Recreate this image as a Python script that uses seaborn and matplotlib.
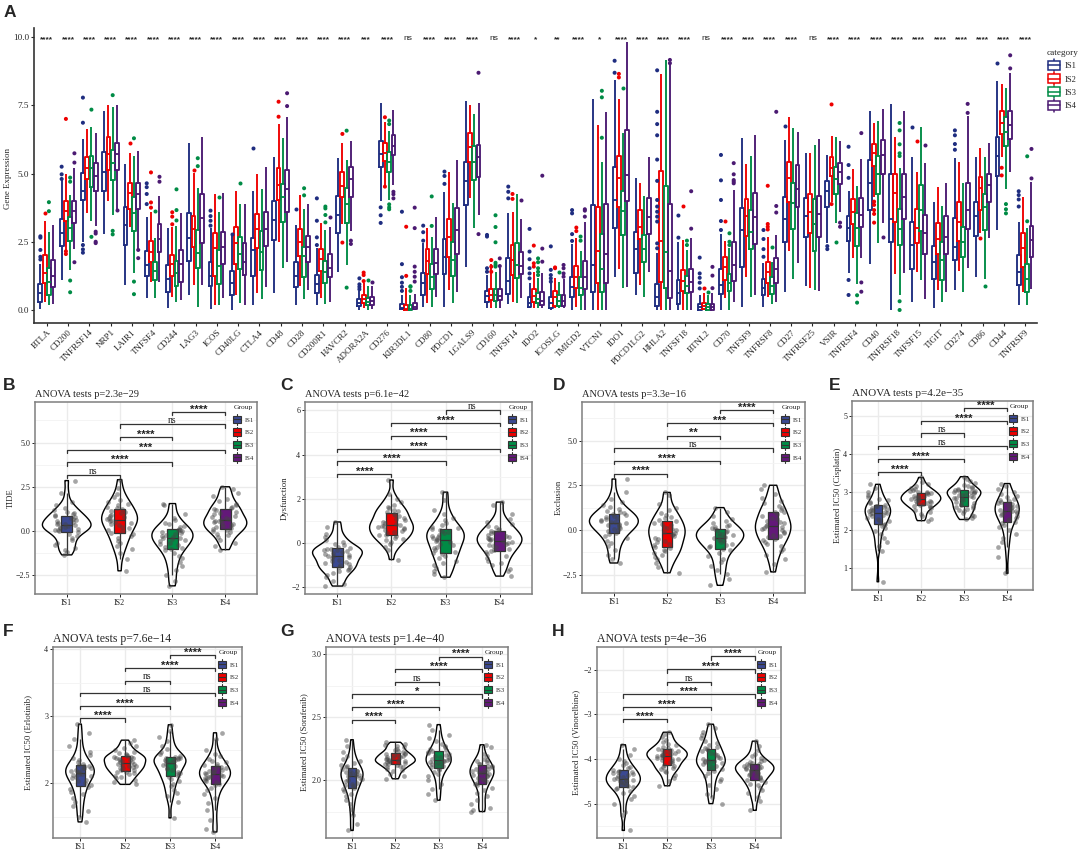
import numpy as np
import pandas as pd
import matplotlib
matplotlib.use('Agg')
import matplotlib.pyplot as plt
from matplotlib.lines import Line2D
from matplotlib.patches import Patch, Rectangle
from matplotlib.legend_handler import HandlerBase
from matplotlib.ticker import AutoMinorLocator
import seaborn as sns

genes = ['BTLA', 'CD200', 'TNFRSF14', 'NRP1', 'LAIR1', 'TNFSF4', 'CD244', 'LAG3', 'ICOS', 'CD40LG', 'CTLA4', 'CD48',
         'CD28', 'CD200R1', 'HAVCR2', 'ADORA2A', 'CD276', 'KIR3DL1', 'CD80', 'PDCD1', 'LGALS9', 'CD160', 'TNFSF14',
         'IDO2', 'ICOSLG', 'TMIGD2', 'VTCN1', 'IDO1', 'PDCD1LG2', 'HHLA2', 'TNFSF18', 'BTNL2', 'CD70', 'TNFSF9',
         'TNFRSF8', 'CD27', 'TNFRSF25', 'VSIR', 'TNFRSF4', 'CD40', 'TNFRSF18', 'TNFSF15', 'TIGIT', 'CD274', 'CD86',
         'CD44', 'TNFRSF9']
gene_sig = ['****'] * 15 + ['***', '****', 'ns', '****', '****', '****', 'ns', '****', '*', '**', '****', '*', '****',
                            '****', '****', '****', 'ns', '****', '****', '****', '****', 'ns'] + ['****'] * 10
groups = ['IS1', 'IS2', 'IS3', 'IS4']

# whisker low, q1, median, q3, whisker high for each gene
is1_stats = [[.05, .3, .63, .94, 1.7], [1.1, 2.35, 2.83, 3.32, 4.76], [2.5, 4.03, 4.36, 5.03, 6.25], [2.78, 4.36, 5.05, 5.8, 7.3],
             [.9, 2.38, 3.1, 3.76, 5.35], [.43, 1.25, 1.65, 2.17, 3.42], [.06, .65, 1.12, 1.65, 3.0], [.55, 1.8, 2.65, 3.57, 6.13],
             [.03, .88, 1.25, 1.77, 3.0], [0, .55, .98, 1.44, 2.75], [.18, 1.25, 2.2, 2.64, 4.35], [.63, 2.56, 3.3, 4.0, 5.6],
             [.18, .83, 1.25, 1.77, 3.11], [.18, .61, .94, 1.28, 2.26], [1.4, 2.81, 3.48, 4.19, 5.58], [0, .15, .27, .39, .7],
             [4.0, 5.25, 5.7, 6.19, 7.57], [0, .02, .08, .22, .55], [.12, .55, .98, 1.37, 2.44], [.12, 1.32, 1.95, 2.61, 4.33],
             [1.56, 3.83, 4.74, 5.41, 7.67], [.06, .3, .51, .71, 1.28], [.22, .57, 1.06, 1.89, 3.54], [.06, .12, .27, .46, .98],
             [0, .06, .24, .49, .98], [0, .46, .83, 1.22, 2.42], [0, .67, 1.65, 3.86, 7.72], [1.22, 3.0, 4.03, 5.25, 8.42],
             [.55, 1.37, 2.23, 2.87, 4.82], [0, .15, .49, .96, 2.1], [0, .22, .61, 1.1, 2.5], [0, 0, .1, .22, .55],
             [0, .57, .92, 1.51, 2.78], [.1, 1.59, 2.93, 3.72, 6.29], [.12, .55, .79, 1.12, 1.71], [.67, 2.5, 3.32, 4.15, 6.23],
             [.88, 2.67, 3.46, 4.11, 5.74], [2.47, 3.79, 4.36, 4.73, 5.68], [1.34, 2.53, 3.0, 3.46, 4.37], [1.67, 3.66, 4.66, 5.49, 7.29],
             [0, 2.48, 3.35, 4.98, 7.55], [.3, 1.49, 2.38, 3.24, 5.59], [.06, 1.12, 1.77, 2.34, 3.96], [.73, 1.82, 2.32, 3.36, 5.56],
             [1.22, 2.72, 3.46, 3.97, 5.59], [2.93, 4.91, 5.64, 6.34, 8.4], [.17, .92, 1.38, 2.01, 3.24]]
is2_stats = [[.3, 1.0, 1.37, 2.0, 3.25], [2.2, 3.26, 3.64, 4.0, 5.0], [3.55, 4.8, 5.2, 5.6, 6.62], [4.0, 5.13, 5.7, 6.33, 7.5],
             [3.05, 3.7, 4.27, 4.66, 5.74], [1.04, 1.77, 2.14, 2.54, 3.6], [.46, 1.26, 1.67, 2.0, 3.05], [.92, 2.32, 2.98, 3.44, 5.03],
             [.18, 1.25, 2.26, 2.83, 4.25], [.55, 1.7, 2.44, 3.05, 4.37], [.63, 2.26, 2.98, 3.5, 4.98], [2.5, 4.03, 4.58, 5.21, 6.8],
             [.88, 1.98, 2.48, 2.98, 4.2], [.43, 1.43, 1.86, 2.22, 3.2], [3.15, 4.15, 4.55, 5.07, 6.13], [.06, .24, .39, .55, .98],
             [4.58, 5.47, 5.76, 6.1, 6.9], [0, 0, .05, .2, .79], [.24, 1.32, 1.8, 2.22, 3.0], [.73, 1.95, 2.66, 3.33, 5.04],
             [4.09, 5.41, 5.98, 6.5, 7.5], [.06, .37, .55, .76, 1.7], [.3, 1.28, 1.83, 2.38, 3.59], [.06, .3, .51, .77, 1.4],
             [.06, .16, .49, .71, 1.16], [.12, .82, 1.22, 1.62, 2.63], [0, .98, 2.17, 3.79, 6.78], [1.5, 3.76, 4.82, 5.64, 7.73],
             [.92, 2.59, 3.03, 3.66, 4.64], [0, 1.04, 2.54, 5.09, 8.65], [0, .7, 1.06, 1.47, 2.56], [0, .02, .15, .27, .61],
             [.43, 1.1, 1.56, 1.95, 2.54], [1.2, 2.72, 3.44, 4.08, 5.35], [.49, 1.0, 1.4, 1.77, 2.66], [2.17, 3.97, 4.82, 5.43, 7.08],
             [.79, 2.83, 3.58, 4.24, 5.74], [3.97, 4.91, 5.21, 5.62, 6.39], [1.89, 3.15, 3.6, 4.07, 5.16], [4.15, 5.27, 5.76, 6.07, 6.84],
             [1.32, 3.24, 4.27, 4.98, 6.32], [1.4, 2.47, 3.0, 3.69, 5.07], [.73, 2.05, 2.6, 3.2, 4.49], [1.43, 2.54, 3.24, 3.94, 5.43],
             [2.81, 3.66, 4.46, 4.88, 5.95], [5.59, 6.45, 6.86, 7.29, 8.28], [.67, 1.59, 2.26, 2.81, 4.13]]
is3_stats = [[.18, .55, 1.04, 1.55, 2.87], [1.45, 2.53, 3.0, 3.4, 4.2], [3.25, 4.5, 5.2, 5.64, 6.72], [3.48, 4.76, 5.37, 5.86, 7.45],
             [1.34, 2.9, 3.57, 4.15, 5.64], [.45, 1.1, 1.43, 1.75, 2.63], [.3, .88, 1.34, 1.8, 3.08], [.12, 1.53, 2.1, 2.93, 4.48],
             [.2, .94, 1.62, 2.2, 3.58], [.27, 1.49, 2.05, 2.69, 3.88], [.39, 1.47, 2.11, 2.9, 4.44], [1.53, 3.21, 4.13, 4.6, 6.29],
             [.39, 1.22, 1.98, 2.32, 3.69], [.22, .98, 1.4, 1.81, 2.93], [1.65, 3.17, 3.9, 4.48, 5.49], [0, .18, .3, .43, .89],
             [4.03, 5.07, 5.43, 5.78, 6.57], [0, 0, .05, .18, .55], [.12, .77, 1.22, 1.68, 2.66], [.27, 1.25, 1.83, 2.49, 3.91],
             [3.0, 4.76, 5.41, 6.02, 7.18], [.06, .33, .55, .77, 1.4], [.27, 1.16, 1.65, 2.47, 4.25], [.06, .24, .4, .61, 1.16],
             [.06, .16, .33, .55, 1.04], [0, .55, .79, 1.22, 2.17], [0, .67, 1.49, 2.77, 5.43], [.79, 2.75, 3.63, 4.37, 6.5],
             [.46, 1.77, 2.23, 2.75, 4.19], [0, .79, 2.11, 4.55, 9.16], [0, .61, .88, 1.25, 2.2], [0, 0, .12, .22, .55],
             [0, .7, 1.0, 1.32, 2.26], [.49, 2.22, 2.87, 3.66, 5.64], [.22, .59, .88, 1.2, 1.77], [1.14, 2.95, 3.93, 4.64, 6.65],
             [.73, 2.17, 3.14, 4.05, 6.04], [3.2, 4.25, 4.79, 5.25, 6.32], [.94, 2.34, 3.0, 3.54, 4.54], [2.47, 4.25, 4.98, 5.64, 6.94],
             [.55, 2.38, 2.97, 3.7, 5.21], [1.1, 2.89, 3.66, 4.58, 6.72], [.3, 1.1, 1.83, 2.48, 3.82], [.67, 1.95, 2.5, 3.05, 4.66],
             [1.12, 2.94, 3.76, 4.24, 5.62], [4.43, 6.0, 6.53, 7.08, 8.12], [.17, .66, 1.14, 1.68, 2.99]]
is4_stats = [[.22, .83, 1.25, 1.85, 3.1], [2.25, 3.17, 3.64, 4.0, 5.2], [3.08, 4.37, 4.9, 5.37, 6.5], [3.66, 5.13, 5.7, 6.13, 7.52],
             [2.2, 3.69, 4.25, 4.66, 5.84], [1.04, 2.14, 2.6, 3.15, 4.18], [.37, 1.04, 1.68, 2.2, 3.57], [.92, 2.47, 3.38, 4.25, 6.35],
             [.45, 1.68, 2.3, 2.86, 4.27], [.18, 1.28, 1.77, 2.47, 3.9], [.85, 2.34, 2.98, 3.58, 5.25], [1.77, 3.6, 4.42, 5.13, 7.06],
             [.73, 1.77, 2.3, 2.71, 3.88], [.3, 1.2, 1.53, 2.05, 3.05], [2.9, 4.15, 4.79, 5.23, 6.2], [.02, .2, .33, .49, .88],
             [4.58, 5.68, 6.0, 6.41, 7.33], [0, .02, .1, .25, .6], [.49, 1.32, 1.71, 2.23, 3.39], [.67, 2.04, 2.93, 3.75, 5.49],
             [3.48, 4.88, 5.59, 6.04, 7.57], [.06, .37, .51, .78, 1.53], [.43, 1.31, 1.62, 2.11, 3.32], [.06, .18, .33, .65, 1.34],
             [.06, .15, .34, .56, 1.14], [0, .77, 1.22, 1.81, 3.24], [0, .98, 2.05, 3.88, 7.26], [.85, 3.98, 4.96, 6.58, 9.83],
             [1.4, 2.77, 3.42, 4.11, 5.62], [0, .45, 1.44, 3.88, 8.97], [0, .65, 1.01, 1.5, 2.65], [0, 0, .12, .22, .61],
             [.3, 1.07, 1.65, 2.48, 4.4], [.55, 2.4, 3.42, 4.27, 6.41], [.3, .98, 1.49, 1.89, 2.75], [1.73, 3.76, 4.42, 5.3, 6.53],
             [.7, 2.67, 3.5, 4.19, 6.25], [3.6, 4.6, 5.04, 5.4, 6.2], [1.92, 3.05, 3.48, 4.09, 5.52], [3.2, 4.98, 5.67, 6.23, 7.35],
             [1.34, 3.33, 4.13, 4.98, 7.29], [.4, 2.05, 2.83, 3.48, 5.37], [.67, 2.04, 2.69, 3.44, 4.66], [1.53, 2.97, 3.66, 4.66, 7.11],
             [2.63, 3.94, 4.57, 4.99, 6.1], [5.07, 6.25, 6.78, 7.3, 8.69], [.77, 1.93, 2.56, 3.08, 4.7]]

# points outside the whiskers, same gene order
is1_out = [[2.65, 2.7, 2.2, 1.95, 1.85], [4.8, 4.97, 5.25], [7.78, 6.86, 2.38, 2.22, 2.1], [], [], [4.64, 4.5, 4.25, 3.88], [], [],
           [3.64, 3.44, 3.27, 3.09], [2.78], [5.93], [], [3.7], [4.09, 3.27, 2.66, 2.38], [], [1.16, .94, .85, .76],
           [3.76, 3.47, 3.19], [.7, .85, 1.0, 1.2, 1.68, 3.6], [3.09, 2.85, 2.54], [5.07, 4.91, 4.62], [], [2.75, 2.69, 1.53, 1.4],
           [4.52, 4.33, 4.09], [2.97, 2.14, 1.86, 1.53, 1.34, 1.16], [2.33, 1.47, 1.28, 1.16, 1.04], [3.66, 3.54, 2.78, 2.53], [],
           [9.13, 8.69], [], [8.78, 7.26, 6.81, 6.4, 5.51, 4.73, 4.03, 3.79, 3.6, 3.42, 3.24, 2.44, 2.26], [3.46, 2.65],
           [1.92, 1.34, 1.18, 1.0, .79], [5.68, 4.75, 4.03, 3.26, 2.93], [], [2.93, 2.6, 2.23, 1.95], [6.74], [], [2.34, 2.23],
           [5.98, 5.31, 4.84, 1.1, .55], [], [], [6.69], [], [6.58, 6.4, 6.08, 5.87], [], [9.05], [4.35, 4.21, 4.05, 3.79]]
is2_out = [[3.55], [7.0, 2.15, 2.05], [], [], [6.13], [5.04, 3.94, 3.75], [3.58, 3.42, 3.14], [5.12], [], [], [], [7.63, 7.08], [],
           [], [6.45, 2.47], [1.37, 1.28, 1.06], [7.06, 4.52], [1.25, 3.05], [], [], [], [1.83, 1.59, 1.4], [4.25, 4.07],
           [2.36, 1.71, 1.59], [1.56, 1.53], [3.02, 2.89], [], [8.65, 8.52], [], [], [3.8], [.79], [3.26], [], [4.55, 3.15, 3.05, 2.95],
           [], [], [7.53, 3.88], [], [3.97, 3.85, 3.66, 3.52, 3.2], [], [6.19], [], [], [2.65], [5.21, 4.93], []]
is3_out = [[3.62, 3.95], [.65, 1.08, 4.85, 4.7], [7.34, 2.68], [7.87, 2.9, 2.77], [6.29, 1.04, .58], [3.63], [4.42, 3.66, 3.28],
           [5.56, 5.27], [4.15], [4.64], [], [], [4.46, 4.2], [3.79, 3.72, 3.48, 3.21], [6.57, .82], [1.1],
           [6.94, 6.81, 3.87, 3.76, 3.69], [.7, .85, .87], [4.16, 3.08], [], [], [3.47, 3.04, 2.48, 1.73, 1.65, 1.59], [],
           [1.89, 1.75, 1.53, 1.4, 1.28], [1.39], [2.69, 2.54], [8.03, 7.79, 6.31], [8.14], [], [], [2.54, 2.38], [.67],
           [2.81, 2.5, 2.38], [], [2.32], [], [], [2.5], [.54, .27], [], [6.85, 6.58, 6.07, 5.74, 5.64, .32, 0], [], [], [], [.89],
           [3.88, 3.69, 3.54], [5.63, 3.25]]
is4_out = [[], [1.75, 5.4, 5.74], [2.87, 2.8, 2.5, 2.45], [3.66], [2.2, 1.9], [4.88, 4.7], [], [], [], [], [], [7.94, 7.47], [], [3.4],
           [2.54, 2.42], [1.04], [4.33, 4.24, 4.09], [3.75, 3.0, 1.59, 1.4, 1.22, 1.04], [], [], [8.69, 2.78], [1.89, 1.61], [4.03],
           [4.92, 2.25, 1.77], [1.65, 1.53, 1.34, 1.22], [3.69, 3.64, 3.42], [], [], [], [9.16, 9.04], [4.35, 2.98], [1.58, 1.26, .8],
           [5.38, 4.97, 4.76, 4.7, 4.64], [], [7.26, 3.81, 3.57], [], [], [3.2, 3.05], [6.48, 1.01, .67], [2.67], [], [6.06], [],
           [7.55, 7.22], [], [9.33, 8.85], [5.9, 4.82]]

# sample values
tide_is1 = [-1.35, -1.2, -1.05, -.95, -.8, -.65, -.5, -.4, -.3, -.15, -.05, 0, .03, .07, .12, .16, .2, .25, .3, .33, .37, .42, .46, .5, .55, .6, .66, .72, .78, .84, .88, .95, 1.02, 1.1, 1.2, 1.32, 1.45, 1.62, 2.15, 2.85]
tide_is2 = [-2.25, -1.6, -1.25, -1.0, -.85, -.7, -.55, -.42, -.3, -.18, -.1, -.02, .08, .17, .25, .32, .4, .47, .53, .58, .63, .68, .74, .8, .86, .92, 1.0, 1.07, 1.15, 1.22, 1.28, 1.35, 1.45, 1.55, 1.65, 1.78, 1.92, 2.1, 2.45, 2.9]
tide_is3 = [-3.1, -2.85, -2.5, -2.2, -1.95, -1.75, -1.55, -1.4, -1.25, -1.1, -1.02, -.95, -.88, -.8, -.73, -.65, -.58, -.52, -.46, -.42, -.38, -.33, -.28, -.23, -.17, -.11, -.05, 0, .05, .08, .12, .2, .28, .37, .47, .6, .75, .95, 1.45, 1.55]
tide_is4 = [-1.05, -.85, -.65, -.5, -.35, -.25, -.15, -.05, .02, .08, .12, .17, .22, .28, .34, .39, .45, .5, .55, .59, .63, .68, .74, .8, .87, .94, 1.02, 1.1, 1.17, 1.23, 1.28, 1.36, 1.45, 1.55, 1.67, 1.8, 1.95, 2.15, 2.35, 2.5]
dys_is1 = [-1.95, -1.85, -1.7, -1.55, -1.45, -1.35, -1.28, -1.22, -1.16, -1.11, -1.07, -1.02, -.97, -.92, -.86, -.81, -.76, -.7, -.65, -.61, -.57, -.53, -.49, -.45, -.41, -.38, -.34, -.31, -.28, -.26, -.22, -.17, -.1, -.03, .05, .15, .28, .42, .72, .95]
dys_is2 = [-.75, -.3, -.2, -.05, .05, .12, .18, .24, .3, .34, .38, .43, .48, .53, .58, .63, .68, .72, .76, .79, .83, .87, .92, .97, 1.03, 1.09, 1.15, 1.22, 1.28, 1.33, 1.38, 1.44, 1.5, 1.57, 1.65, 1.74, 1.85, 1.98, 2.2, 2.85]
dys_is3 = [-1.55, -1.4, -1.25, -1.12, -1.0, -.9, -.8, -.7, -.6, -.52, -.46, -.39, -.32, -.25, -.18, -.11, -.04, .03, .09, .13, .18, .23, .28, .33, .38, .43, .48, .53, .58, .63, .68, .74, .82, .92, 1.02, 1.15, 1.3, 1.5, 1.95, 2.3]
dys_is4 = [-1.5, -1.25, -1.2, -1.02, -.9, -.8, -.7, -.6, -.5, -.42, -.37, -.31, -.26, -.2, -.14, -.09, -.03, .02, .06, .09, .12, .16, .2, .24, .28, .33, .38, .43, .48, .53, .58, .64, .7, .78, .86, .96, 1.1, 1.3, 1.72, 1.85]
exc_is1 = [-1.85, -1.65, -1.4, -1.15, -.9, -.75, -.6, -.45, -.32, -.22, -.16, -.08, 0, .07, .13, .19, .25, .3, .35, .39, .42, .47, .52, .57, .62, .67, .72, .78, .84, .88, .93, 1.0, 1.08, 1.17, 1.27, 1.4, 1.55, 1.75, 2.15, 2.85]
exc_is2 = [-2.4, -2.05, -1.85, -1.65, -1.5, -1.4, -1.3, -1.2, -1.1, -1.02, -.95, -.85, -.77, -.68, -.6, -.52, -.44, -.36, -.28, -.22, -.17, -.1, -.03, .03, .1, .18, .25, .33, .41, .48, .55, .65, .75, .85, .97, 1.1, 1.25, 1.45, 1.95, 2.1]
exc_is3 = [-3.1, -2.75, -2.45, -2.25, -2.0, -1.8, -1.6, -1.45, -1.28, -1.12, -1.05, -.98, -.9, -.83, -.76, -.69, -.62, -.56, -.5, -.46, -.42, -.37, -.32, -.27, -.22, -.17, -.12, -.06, -.01, .03, .08, .14, .22, .3, .4, .5, .62, .78, 1.0, 1.25]
exc_is4 = [-2.35, -1.9, -1.6, -1.4, -1.2, -1.05, -.92, -.78, -.66, -.57, -.5, -.42, -.34, -.26, -.18, -.1, -.02, .06, .13, .18, .23, .3, .37, .44, .52, .6, .68, .78, .88, .98, 1.03, 1.12, 1.22, 1.35, 1.48, 1.62, 1.8, 2.0, 2.3, 2.5]
cis_is1 = [.65, 1.45, 1.58, 1.68, 1.8, 1.9, 1.98, 2.05, 2.1, 2.14, 2.17, 2.2, 2.24, 2.27, 2.3, 2.33, 2.36, 2.39, 2.42, 2.44, 2.46, 2.48, 2.5, 2.52, 2.54, 2.56, 2.58, 2.6, 2.62, 2.64, 2.67, 2.7, 2.74, 2.78, 2.82, 2.87, 2.93, 3.0, 3.1, 3.2]
cis_is2 = [2.25, 2.3, 2.36, 2.42, 2.48, 2.53, 2.57, 2.6, 2.62, 2.64, 2.66, 2.68, 2.7, 2.72, 2.74, 2.76, 2.77, 2.79, 2.8, 2.81, 2.83, 2.84, 2.86, 2.87, 2.89, 2.9, 2.92, 2.94, 2.96, 2.97, 2.99, 3.01, 3.03, 3.05, 3.08, 3.11, 3.15, 3.2, 3.27, 3.38]
cis_is3 = [2.28, 2.32, 2.36, 2.41, 2.45, 2.49, 2.52, 2.55, 2.58, 2.61, 2.63, 2.66, 2.69, 2.72, 2.75, 2.78, 2.81, 2.83, 2.85, 2.87, 2.89, 2.91, 2.93, 2.95, 2.97, 2.99, 3.0, 3.01, 3.03, 3.04, 3.06, 3.08, 3.1, 3.13, 3.16, 3.19, 3.23, 3.28, 3.35, 3.4]
cis_is4 = [.87, 1.3, 1.55, 1.68, 1.8, 1.9, 2.0, 2.08, 2.14, 2.19, 2.22, 2.26, 2.3, 2.33, 2.37, 2.4, 2.43, 2.45, 2.47, 2.49, 2.51, 2.53, 2.56, 2.58, 2.6, 2.63, 2.65, 2.68, 2.71, 2.74, 2.76, 2.79, 2.82, 2.86, 2.9, 2.95, 3.0, 3.07, 3.15, 3.22]
erl_is1 = [1.42, 1.5, 1.58, 1.66, 1.72, 1.78, 1.83, 1.87, 1.91, 1.94, 1.97, 2.0, 2.03, 2.05, 2.07, 2.09, 2.11, 2.12, 2.13, 2.14, 2.16, 2.17, 2.18, 2.2, 2.21, 2.22, 2.23, 2.25, 2.26, 2.27, 2.29, 2.32, 2.35, 2.38, 2.42, 2.47, 2.55, 2.65, 2.75, 2.88]
erl_is2 = [1.98, 2.01, 2.04, 2.07, 2.09, 2.11, 2.13, 2.15, 2.16, 2.17, 2.19, 2.2, 2.22, 2.23, 2.24, 2.25, 2.26, 2.27, 2.28, 2.29, 2.31, 2.32, 2.33, 2.34, 2.35, 2.36, 2.37, 2.38, 2.39, 2.395, 2.41, 2.42, 2.44, 2.45, 2.47, 2.49, 2.52, 2.55, 2.6, 2.64]
erl_is3 = [1.48, 1.72, 1.8, 1.85, 1.9, 1.95, 1.99, 2.03, 2.06, 2.09, 2.11, 2.13, 2.15, 2.17, 2.19, 2.21, 2.23, 2.25, 2.27, 2.29, 2.31, 2.32, 2.33, 2.34, 2.35, 2.355, 2.36, 2.37, 2.375, 2.38, 2.39, 2.41, 2.44, 2.47, 2.51, 2.56, 2.62, 2.68, 2.77, 2.87]
erl_is4 = [1.27, 1.32, 1.45, 1.6, 1.7, 1.78, 1.84, 1.89, 1.93, 1.97, 1.99, 2.01, 2.03, 2.05, 2.07, 2.08, 2.09, 2.1, 2.11, 2.12, 2.14, 2.15, 2.16, 2.17, 2.18, 2.2, 2.21, 2.23, 2.24, 2.25, 2.27, 2.29, 2.31, 2.33, 2.36, 2.4, 2.44, 2.5, 2.65, 2.75]
sor_is1 = [1.6, 1.65, 1.72, 1.77, 1.81, 1.84, 1.87, 1.89, 1.91, 1.93, 1.94, 1.95, 1.96, 1.97, 1.98, 1.99, 2.0, 2.01, 2.02, 2.03, 2.035, 2.04, 2.045, 2.05, 2.055, 2.06, 2.07, 2.075, 2.08, 2.09, 2.1, 2.11, 2.12, 2.135, 2.15, 2.17, 2.19, 2.22, 2.27, 2.32]
sor_is2 = [2.01, 2.03, 2.05, 2.07, 2.08, 2.09, 2.1, 2.105, 2.11, 2.12, 2.125, 2.13, 2.135, 2.14, 2.145, 2.15, 2.15, 2.155, 2.16, 2.16, 2.165, 2.17, 2.175, 2.18, 2.185, 2.19, 2.195, 2.2, 2.205, 2.21, 2.215, 2.22, 2.23, 2.24, 2.25, 2.26, 2.27, 2.28, 2.29, 2.3]
sor_is3 = [1.84, 1.89, 1.93, 1.97, 2.0, 2.03, 2.05, 2.06, 2.08, 2.09, 2.1, 2.11, 2.12, 2.125, 2.13, 2.14, 2.145, 2.15, 2.155, 2.16, 2.165, 2.17, 2.18, 2.185, 2.19, 2.2, 2.21, 2.215, 2.22, 2.23, 2.24, 2.25, 2.26, 2.27, 2.29, 2.31, 2.33, 2.36, 2.4, 2.44]
sor_is4 = [1.75, 1.76, 1.78, 1.81, 1.84, 1.87, 1.9, 1.92, 1.94, 1.96, 1.97, 1.98, 1.99, 2.0, 2.01, 2.02, 2.03, 2.035, 2.04, 2.05, 2.055, 2.06, 2.065, 2.07, 2.08, 2.085, 2.09, 2.1, 2.11, 2.115, 2.125, 2.13, 2.14, 2.15, 2.16, 2.17, 2.19, 2.21, 2.26, 2.28]
vin_is1 = [-5.6, -5.25, -5.18, -5.0, -4.9, -4.82, -4.76, -4.71, -4.67, -4.64, -4.62, -4.6, -4.58, -4.56, -4.54, -4.52, -4.5, -4.48, -4.47, -4.46, -4.44, -4.42, -4.4, -4.38, -4.36, -4.34, -4.32, -4.3, -4.28, -4.26, -4.24, -4.21, -4.18, -4.14, -4.1, -4.05, -4.0, -3.9, -3.78, -3.68]
vin_is2 = [-4.6, -4.5, -4.42, -4.35, -4.3, -4.26, -4.23, -4.2, -4.18, -4.16, -4.13, -4.1, -4.07, -4.05, -4.03, -4.01, -3.99, -3.97, -3.95, -3.94, -3.92, -3.91, -3.9, -3.88, -3.87, -3.85, -3.84, -3.82, -3.8, -3.79, -3.77, -3.75, -3.72, -3.69, -3.66, -3.62, -3.57, -3.51, -3.45, -3.4]
vin_is3 = [-5.0, -4.85, -4.78, -4.67, -4.58, -4.5, -4.44, -4.37, -4.31, -4.26, -4.23, -4.2, -4.17, -4.15, -4.12, -4.1, -4.08, -4.06, -4.05, -4.04, -4.02, -4.0, -3.97, -3.95, -3.92, -3.89, -3.86, -3.83, -3.8, -3.78, -3.75, -3.72, -3.68, -3.64, -3.59, -3.54, -3.47, -3.4, -3.3, -3.22]
vin_is4 = [-5.15, -4.95, -4.85, -4.77, -4.7, -4.64, -4.59, -4.55, -4.51, -4.48, -4.46, -4.43, -4.4, -4.38, -4.35, -4.33, -4.31, -4.29, -4.27, -4.26, -4.24, -4.23, -4.21, -4.2, -4.18, -4.17, -4.15, -4.14, -4.12, -4.11, -4.09, -4.07, -4.05, -4.02, -3.98, -3.94, -3.88, -3.8, -3.7, -3.6]

line_colors = ['#1F2D80', '#EE0000', '#008B45', '#4B1A72']
fill_colors = ['#3B4992', '#EE0000', '#008B45', '#631879']
W, H = 1084, 850

sns.set_style('white')
plt.rcParams['font.family'] = ['Liberation Serif', 'DejaVu Sans']
fig = plt.figure(figsize=(W / 100, H / 100), dpi=100)


def add_axes_px(left, top, right, bottom):
    return fig.add_axes([left / W, 1 - bottom / H, (right - left) / W, (bottom - top) / H])


class BoxKey(HandlerBase):
    # legend key that looks like a small box with whiskers
    def create_artists(self, legend, orig, xd, yd, width, height, fontsize, trans):
        cx, cy = width / 2 - xd, height / 2 - yd
        bw, bh = orig.get_width_px
        ec, fc, lw = orig.get_edgecolor(), orig.get_facecolor(), orig.get_linewidth()
        box = Rectangle((cx - bw / 2, cy - bh / 2), bw, bh, facecolor=fc, edgecolor=ec, lw=lw, transform=trans)
        mid = Line2D([cx - bw / 2, cx + bw / 2], [cy, cy], color=ec, lw=lw, transform=trans)
        wh1 = Line2D([cx, cx], [cy + bh / 2, cy + bh / 2 + 1.2], color=ec, lw=lw, transform=trans)
        wh2 = Line2D([cx, cx], [cy - bh / 2, cy - bh / 2 - 1.2], color=ec, lw=lw, transform=trans)
        return [wh1, wh2, box, mid]


def key(edge, face, lw, size):
    p = Patch(edgecolor=edge, facecolor=face, linewidth=lw)
    p.get_width_px = size
    return p


# panel A: long tables for boxes and outliers
rows = []
out_rows = []
for grp, stats, outs in zip(groups, [is1_stats, is2_stats, is3_stats, is4_stats], [is1_out, is2_out, is3_out, is4_out]):
    for gene, st, ou in zip(genes, stats, outs):
        rows += [(gene, grp, v) for v in st]
        out_rows += [(gene, grp, v) for v in ou]
box_df = pd.DataFrame(rows, columns=['gene', 'group', 'value'])
out_df = pd.DataFrame(out_rows, columns=['gene', 'group', 'value'])

ax = add_axes_px(34, 28, 1037, 323)
sns.boxplot(data=box_df, x='gene', y='value', hue='group', order=genes, hue_order=groups, palette=line_colors,
            fill=False, whis=(0, 100), width=0.8, gap=0.1, showcaps=False, showfliers=False, linewidth=1.35,
            legend=False, ax=ax)
sns.stripplot(data=out_df, x='gene', y='value', hue='group', order=genes, hue_order=groups, palette=line_colors,
              dodge=True, jitter=False, size=2.9, linewidth=0, legend=False, ax=ax)
ax.set_xlim(-0.6, 46.56)
ax.set_ylim(-0.476, 10.33)
ax.set_yticks([0, 2.5, 5, 7.5, 10])
ax.set_xlabel('')
ax.set_ylabel('Gene Expression', fontsize=6.4)
ax.yaxis.label.set_va('center')
ax.yaxis.set_label_coords(-0.026, 0.49)
sns.despine(ax=ax)
for s in ['left', 'bottom']:
    ax.spines[s].set_linewidth(1.2)
    ax.spines[s].set_color('#333333')
ax.tick_params(axis='y', labelsize=6.6, length=2, width=0.8, pad=1.5, left=True)
ax.tick_params(axis='x', length=2.5, width=0.8, pad=1.5, bottom=True)
ax.set_xticks(range(len(genes)))
ax.set_xticklabels(genes, rotation=45, ha='right', rotation_mode='anchor', fontsize=6.5)
for i, lab in enumerate(gene_sig):
    if lab == 'ns':
        ax.annotate(lab, (i, 10), xytext=(0, -1), textcoords='offset points', ha='center', va='center',
                    fontsize=6, family='Liberation Sans', color='#222222')
    else:
        ax.annotate(lab, (i, 10), xytext=(0, -3.4), textcoords='offset points', ha='center', va='baseline',
                    fontsize=6, family='Liberation Sans', fontweight='bold')
handles = [key(c, 'white', 1.1, (9, 6.5)) for c in line_colors]
fig.legend(handles, groups, title='category', handler_map={Patch: BoxKey()}, loc='upper left',
           bbox_to_anchor=(1040 / W, 1 - 42 / H), frameon=False, fontsize=6.2, title_fontsize=6.6, alignment='left',
           labelspacing=0.62, handlelength=1.7, handletextpad=0.4, borderpad=0.3)

# panels B to H
panels = [
    dict(letter='B', box=(35, 402, 257, 594), ylim=(-3.56, 7.29), ticks=[-2.5, 0, 2.5, 5], ylabel='TIDE',
         label_x=11, letter_xy=(3, 390), title='ANOVA tests p=2.3e\u221229', tsize=7.5,
         values=[tide_is1, tide_is2, tide_is3, tide_is4],
         br_y=[3.18, 3.88, 4.59, 5.31, 6.03, 6.74], br_lab=['ns', '****', '***', '****', 'ns', '****']),
    dict(letter='C', box=(305, 402, 532, 594), ylim=(-2.31, 6.38), ticks=[-2, 0, 2, 4, 6], ylabel='Dysfunction',
         label_x=285, letter_xy=(280, 390), title='ANOVA tests p=6.1e\u221242', tsize=7.5,
         values=[dys_is1, dys_is2, dys_is3, dys_is4],
         br_y=[3.13, 3.69, 4.25, 4.86, 5.43, 6.0], br_lab=['****', '****', '****', '****', '****', 'ns']),
    dict(letter='D', box=(582, 402, 805, 593), ylim=(-3.53, 7.16), ticks=[-2.5, 0, 2.5, 5], ylabel='Exclusion',
         label_x=559, letter_xy=(553, 390), title='ANOVA tests p=3.3e\u221216', tsize=7.5,
         values=[exc_is1, exc_is2, exc_is3, exc_is4],
         br_y=[3.15, 3.86, 4.57, 5.28, 6.0, 6.72], br_lab=['****', '****', 'ns', '**', '***', '****']),
    dict(letter='E', box=(852, 401, 1033, 590), ylim=(0.435, 5.38), ticks=[1, 2, 3, 4, 5], ylabel='Estimated IC50 (Cisplatin)',
         label_x=838, letter_xy=(829, 390), title='ANOVA tests p=4.2e\u221235', tsize=8,
         values=[cis_is1, cis_is2, cis_is3, cis_is4],
         br_y=[3.53, 3.86, 4.2, 4.53, 4.86, 5.19], br_lab=['****', '****', 'ns', 'ns', '****', '****']),
    dict(letter='F', box=(53, 647, 242, 838), ylim=(1.18, 4.03), ticks=[2, 3, 4], ylabel='Estimated IC50 (Erlotinib)',
         label_x=28, letter_xy=(3, 636), title='ANOVA tests p=7.6e\u221214', tsize=8.5,
         values=[erl_is1, erl_is2, erl_is3, erl_is4],
         br_y=[2.965, 3.15, 3.34, 3.53, 3.72, 3.91], br_lab=['****', '****', 'ns', 'ns', '****', '****']),
    dict(letter='G', box=(326, 647, 508, 838), ylim=(1.54, 3.056), ticks=[2, 2.5, 3], ylabel='Estimated IC50 (Sorafenib)',
         label_x=304, letter_xy=(280, 636), title='ANOVA tests p=1.4e\u221240', tsize=8.5,
         values=[sor_is1, sor_is2, sor_is3, sor_is4],
         br_y=[2.48, 2.58, 2.68, 2.78, 2.88, 2.98], br_lab=['****', '****', '*', 'ns', '****', '****']),
    dict(letter='H', box=(597, 647, 781, 838), ylim=(-5.77, -1.49), ticks=[-5, -4, -3, -2], ylabel='Estimated IC50 (Vinorelbine)',
         label_x=576, letter_xy=(552, 636), title='ANOVA tests p=4e\u221236', tsize=8.5,
         values=[vin_is1, vin_is2, vin_is3, vin_is4],
         br_y=[-3.105, -2.83, -2.55, -2.27, -1.99, -1.70], br_lab=['****', '****', '****', 'ns', '****', '****']),
]
pairs = [(0, 1), (0, 2), (0, 3), (1, 2), (1, 3), (2, 3)]

for p in panels:
    ax = add_axes_px(*p['box'])
    df = pd.DataFrame({'group': np.repeat(groups, [len(v) for v in p['values']]), 'value': np.concatenate(p['values'])})
    sns.violinplot(data=df, x='group', y='value', order=groups, color='black', fill=False, inner=None, cut=0,
                   bw_method=0.33, density_norm='area', width=0.92, linewidth=1.0, ax=ax)
    sns.stripplot(data=df, x='group', y='value', order=groups, color='#444444', alpha=0.48, size=3.4, jitter=0.25,
                  linewidth=0, ax=ax)
    sns.boxplot(data=df, x='group', y='value', hue='group', order=groups, hue_order=groups, palette=fill_colors,
                saturation=1, width=0.2, linecolor='#333333', linewidth=0.9, showfliers=False, showcaps=False,
                legend=False, ax=ax)
    ax.set_xlim(-0.6, 3.6)
    ax.set_ylim(*p['ylim'])
    ax.set_yticks(p['ticks'])
    ax.yaxis.set_minor_locator(AutoMinorLocator(2))
    ax.grid(True, which='major', color='#ebebeb', lw=1.0)
    ax.grid(True, which='minor', axis='y', color='#f3f3f3', lw=0.6)
    ax.set_axisbelow(True)
    ax.tick_params(which='minor', length=0)
    ax.tick_params(which='major', labelsize=5.8, length=2, width=0.7, pad=1.5, colors='#222222', left=True, bottom=True)
    for s in ax.spines.values():
        s.set_color('#7f7f7f')
        s.set_linewidth(1.1)
    ax.set_xlabel('')
    ax.set_ylabel(p['ylabel'], fontsize=6.3)
    ax.yaxis.label.set_va('center')
    left, right = p['box'][0], p['box'][2]
    ax.yaxis.set_label_coords((p['label_x'] - left) / (right - left), 0.5)
    ax.set_title(p['title'], loc='left', fontsize=p['tsize'], pad=3.5)
    tip = 0.017 * (p['ylim'][1] - p['ylim'][0])
    for (a, b), y, lab in zip(pairs, p['br_y'], p['br_lab']):
        ax.plot([a, a, b, b], [y - tip, y, y, y - tip], color='#333333', lw=0.9, clip_on=False)
        if lab == 'ns':
            ax.annotate(lab, ((a + b) / 2, y), xytext=(0, 0.8), textcoords='offset points', ha='center', va='baseline',
                        fontsize=7, color='#222222')
        else:
            ax.annotate(lab, ((a + b) / 2, y), xytext=(0, -0.5), textcoords='offset points', ha='center', va='baseline',
                        fontsize=8, family='Liberation Sans', fontweight='bold', color='#222222')
    handles = [key('#333333', c, 0.8, (6, 5.5)) for c in fill_colors]
    ax.legend(handles, groups, title='Group', handler_map={Patch: BoxKey()}, loc='upper right', bbox_to_anchor=(1.0, 1.0),
              frameon=False, fontsize=4.8, title_fontsize=5.4, labelspacing=1.05, handlelength=1.4, handletextpad=0.5,
              borderpad=0.25, borderaxespad=0.2)
    fig.text(p['letter_xy'][0] / W, 1 - p['letter_xy'][1] / H, p['letter'], fontsize=12.5, fontweight='bold',
             family='Liberation Sans', va='baseline')

fig.text(4 / W, 1 - 17 / H, 'A', fontsize=12.5, fontweight='bold', family='Liberation Sans', va='baseline')

fig.savefig('out.png', dpi=100)
